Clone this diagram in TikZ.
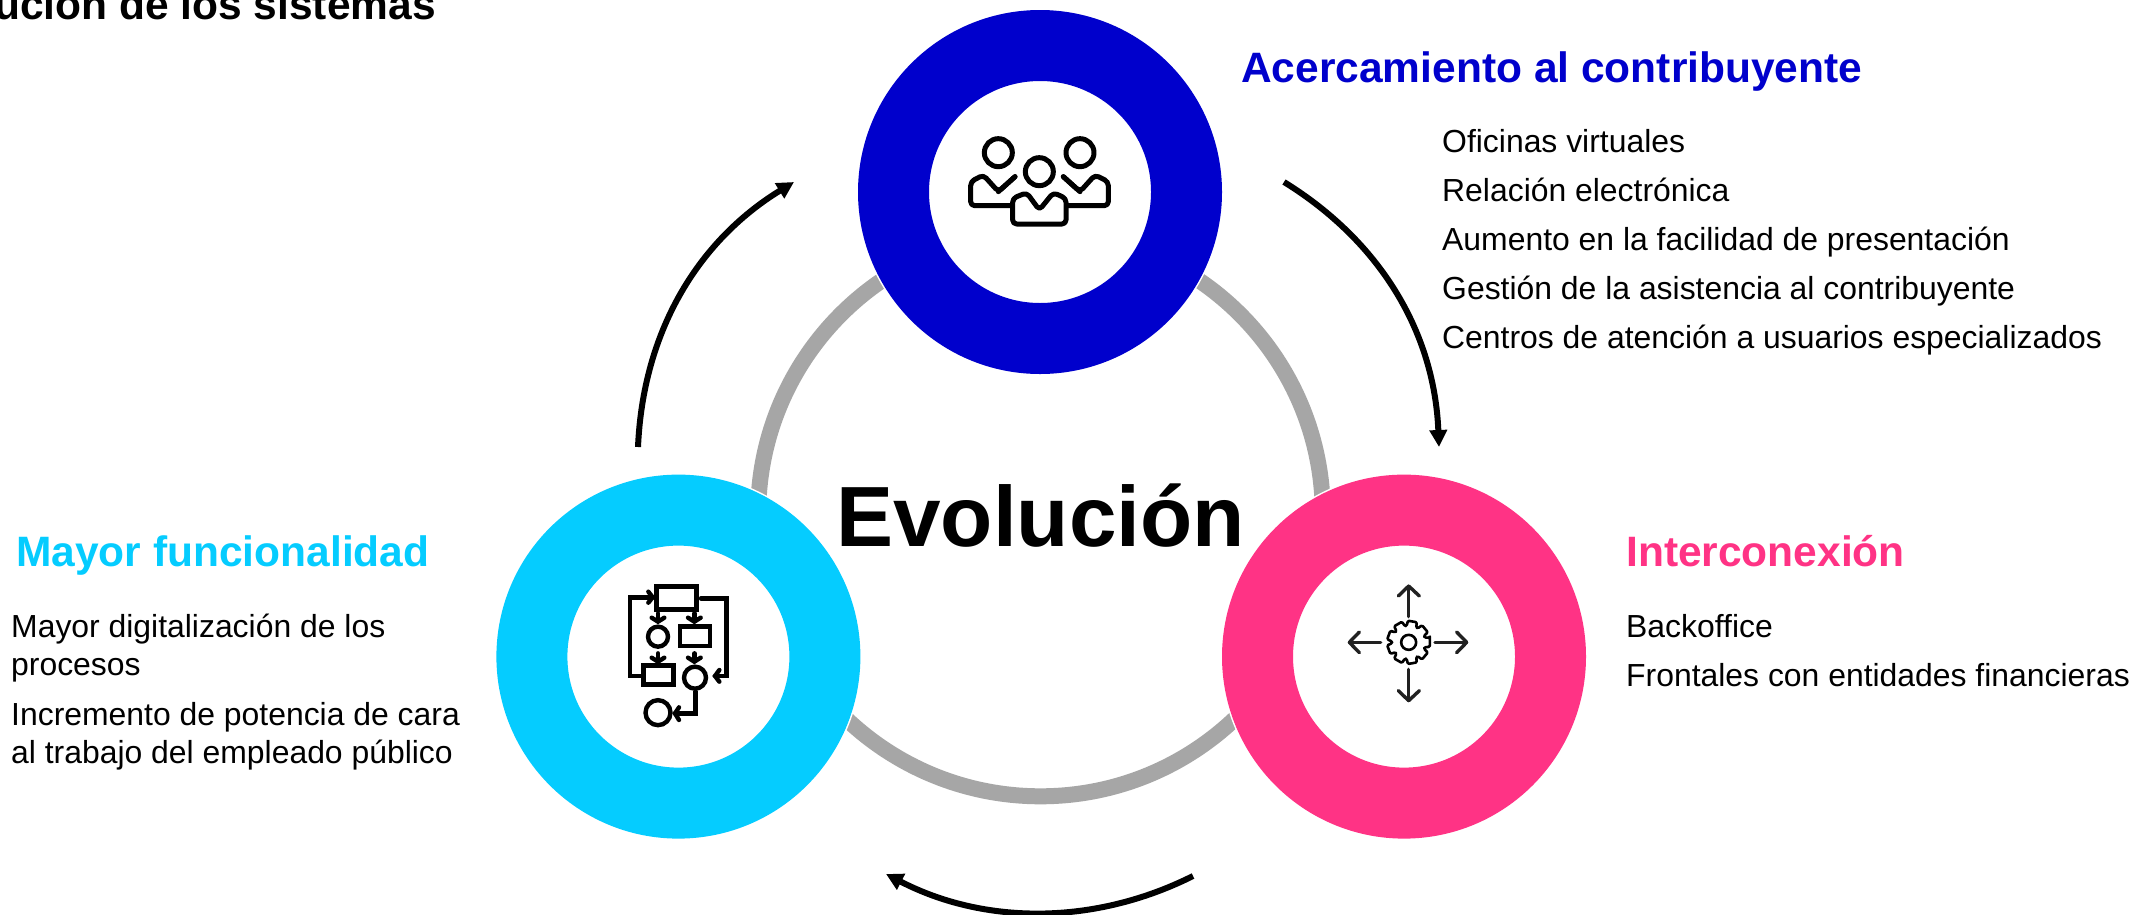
\documentclass[tikz,border=0pt]{standalone}
\usepackage{fontspec}
\setmainfont{Liberation Sans}
\usetikzlibrary{arrows.meta}
\definecolor{cblue}{HTML}{0000CC}
\definecolor{clight}{HTML}{05CCFF}
\definecolor{cpink}{HTML}{FF3385}
\definecolor{cgrey}{HTML}{A6A6A6}
\tikzset{
  ringnode/.style={circle,draw=#1,fill=white,line width=71pt,minimum size=293pt,inner sep=0pt},
  halo/.style={fill=white},
  head/.style={anchor=base west,inner sep=0pt,font=\fontsize{42.5}{50}\selectfont\bfseries,text=#1},
  body/.style={anchor=base west,inner sep=0pt,font=\fontsize{31.9}{38}\selectfont},
  flow/.style={-{Triangle[length=17pt,width=17pt]},line width=6pt},
  iconline/.style={line width=5pt,line cap=round,line join=round},
  iconflow/.style={line width=4.4pt,line cap=round,line join=miter},
  icongear/.style={line width=3.4pt,line cap=round,line join=round,draw=black!87},
}
\begin{document}
\begin{tikzpicture}[x=1pt,y=-1pt]
\useasboundingbox (0,0) rectangle (2136,914);
\fill[white] (0,0) rectangle (2136,914);
% title, cut by the slide edge
\begin{scope}
\clip (0,0) rectangle (2136,914);
\node[anchor=base east,inner sep=0pt,font=\fontsize{42.5}{50}\selectfont\bfseries] (title) at (436,19) {Evolución de los sistemas};
\end{scope}
% grey ring
\coordinate (hub) at (1040.5,514);
\draw[cgrey,line width=16pt] (hub) circle[radius=282.3pt];
% thin white edge round the circles, where the ring stops
\fill[halo] (1040,192) circle[radius=183.5pt];
\fill[halo] (678.4,656.6) circle[radius=183.5pt];
\fill[halo] (1404,656.6) circle[radius=183.5pt];
% main circles
\node[ringnode=cblue] (top) at (1040,192) {};
\node[ringnode=clight] (left) at (678.4,656.6) {};
\node[ringnode=cpink] (right) at (1404,656.6) {};
\node[inner sep=0pt,font=\fontsize{85.5}{90}\selectfont\bfseries,anchor=base] (evo) at (1040.5,546.7) {Evolución};
% flow arrows
\coordinate (a1s) at (1284,182);
\coordinate (a1e) at (1439,447);
\coordinate (a2s) at (1193,876);
\coordinate (a2e) at (886,874);
\coordinate (a3s) at (638,447);
\coordinate (a3e) at (794,182);
\draw[flow] (a1s) to[bend left=28,looseness=0.95] (a1e);
\draw[flow] (a2s) to[bend left=27,looseness=0.92] (a2e);
\draw[flow] (a3s) to[bend left=28,looseness=0.95] (a3e);
% texts
\node[head=cblue] (h1) at (1241,82) {Acercamiento al contribuyente};
\node[body] (t1) at (1442,152.5) {Oficinas virtuales};
\node[body] (t2) at (1442,201.5) {Relación electrónica};
\node[body] (t3) at (1442,250.5) {Aumento en la facilidad de presentación};
\node[body] (t4) at (1442,299.5) {Gestión de la asistencia al contribuyente};
\node[body] (t5) at (1442,348.5) {Centros de atención a usuarios especializados};
\node[head=cpink] (h2) at (1626,566.5) {Interconexión};
\node[body] (t6) at (1626,637) {Backoffice};
\node[body] (t7) at (1626,686) {Frontales con entidades financieras};
\node[head=clight] (h3) at (16,566.5) {Mayor funcionalidad};
\node[body] (t8) at (11,637) {Mayor digitalización de los};
\node[body] (t9) at (11,675) {procesos};
\node[body] (t10) at (11,725) {Incremento de potencia de cara};
\node[body] (t11) at (11,763) {al trabajo del empleado público};
% people icon
\begin{scope}[shift={(930,120)},x=1/3*1pt,y=-1/3*1pt]
\begin{scope}[iconline]
\draw (205,98) circle[radius=14pt];
\draw (450,98) circle[radius=14pt];
\draw (328,155) circle[radius=14pt];
\draw[rounded corners=4pt] (255,170) -- (205,215) -- (160,165) -- (122,185) -- (122,257) -- (245,257);
\draw (255,170) -- (205,215);
\draw[rounded corners=4pt] (400,170) -- (450,215) -- (495,165) -- (535,185) -- (535,257) -- (410,257);
\draw (400,170) -- (450,215);
\draw[rounded corners=4pt] (328,270) -- (290,218) -- (248,235) -- (248,312) -- (408,312) -- (408,235) -- (370,218) -- cycle;
\end{scope}
\end{scope}
% process icon
\begin{scope}[shift={(600,570)},x=1/3*1pt,y=-1/3*1pt,iconflow]
\draw (170,50) rectangle (290,118);
\draw (240,170) rectangle (330,228);
\draw (130,287) rectangle (220,343);
\draw (174,200) circle[radius=10pt];
\draw (285,323) circle[radius=11pt];
\draw (174,428) circle[radius=12.5pt];
\draw (130,318) -- (90,318) -- (90,82) -- (155,82);
\draw (145,65) -- (158,82) -- (145,98);
\draw (303,85) -- (380,85) -- (380,318) -- (345,318);
\draw (358,300) -- (345,318) -- (358,335);
\draw (287,365) -- (287,430) -- (225,430);
\draw (237,412) -- (225,430) -- (237,450);
\foreach \ax/\ay in {174/130,283/130,174/250,283/250}{
  \draw (\ax,\ay) -- ++(0,24);
  \draw (\ax-19,\ay+13) -- (\ax,\ay+25) -- (\ax+19,\ay+13);
}
\end{scope}
% gear icon
\begin{scope}[shift={(1320,570)},x=1/3*1pt,y=-1/3*1pt]
\begin{scope}[icongear]
\draw (266,140) -- (266,48);
\draw (235,78) -- (266,48) -- (298,78);
\draw (266,298) -- (266,392);
\draw (235,362) -- (266,392) -- (298,362);
\draw (182,217) -- (88,217);
\draw (118,186) -- (88,217) -- (118,248);
\draw (345,217) -- (440,217);
\draw (410,186) -- (440,217) -- (410,248);
\end{scope}
\begin{scope}[shift={(266,217)},line width=2.6pt,line join=round]
\draw (0,0) circle[radius=7.5pt];
\draw[rounded corners=1.2pt] (-12:65) \foreach \i in {0,...,8}{
  -- ({\i*40-12}:65) -- ({\i*40+12}:65) -- ({\i*40+17}:50) -- ({\i*40+23}:50) } -- cycle;
\end{scope}
\end{scope}
\end{tikzpicture}
\end{document}
